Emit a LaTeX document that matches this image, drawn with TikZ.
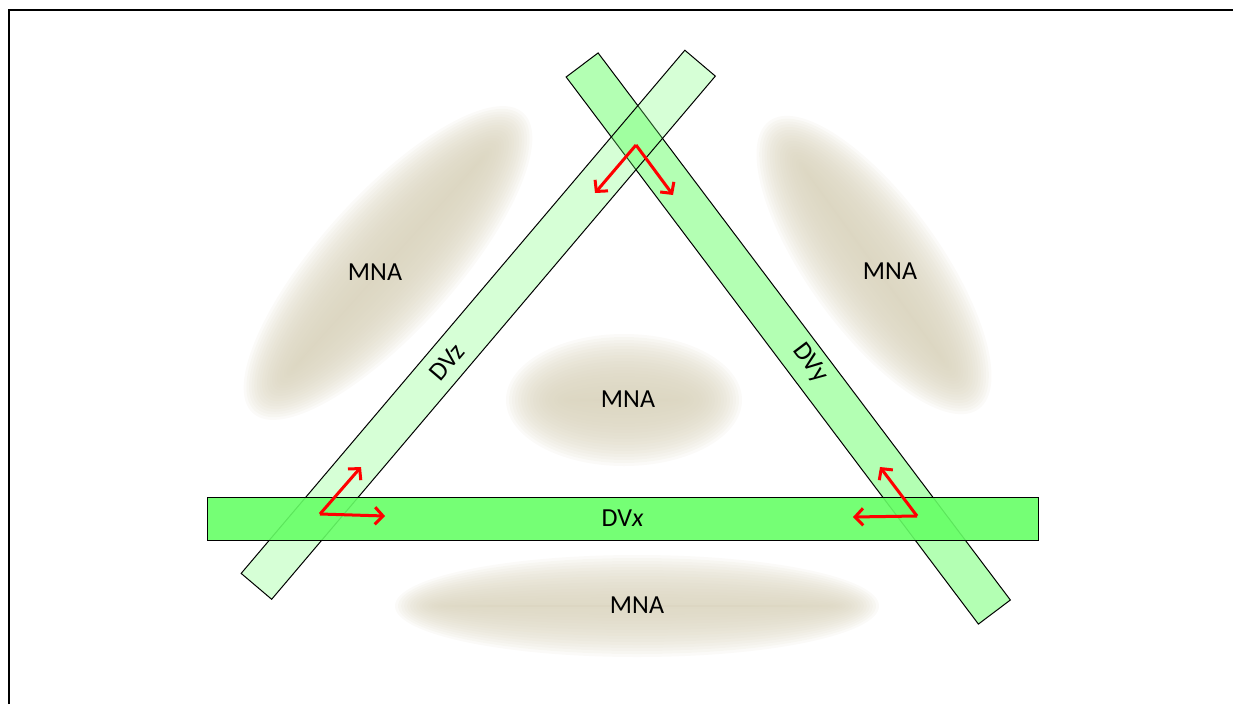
\documentclass[tikz,border=0pt]{standalone}
\usepackage{fontspec}
\setmainfont{Carlito}
\usepackage{tikz}
\usetikzlibrary{positioning, arrows.meta}
\definecolor{mnatan}{RGB}{218,212,190}
\definecolor{dvxgreen}{RGB}{102,255,102}
\definecolor{dvygreen}{RGB}{179,255,179}
\definecolor{dvzgreen}{RGB}{114,255,114}
\tikzstyle{Vec} = [
%red direction arrows:
red, line width=3pt,
-{Straight Barb[length=8pt, width=17pt]}
]

\begin{document}
\begin{tikzpicture}[x=1pt, y=-1pt,
				bar/.style = {draw, line width=1pt},
				mna/.style = {font=\fontsize{26}{30}\selectfont},
			]
			\useasboundingbox (0,0) rectangle (1233,704);
			\draw[line width=2pt] (9,704) -- (9,10) -- (1233,10);

			% soft MNA patches: stacked faint ellipses
			\foreach \cx/\cy/\ang/\a/\b in {388/263/48/166/32, 874/265/-54/142/30, 624/400/0/82/30, 637/606/0/206/15}{
				\foreach \k in {0,...,24}{
					\pgfmathsetmacro\ra{max(\a+36-3*\k,1)}
					\pgfmathsetmacro\rb{max(\b+36-3*\k,1)}
					\fill[mnatan, fill opacity=0.11, rotate around={\ang:(\cx,\cy)}] (\cx,\cy) ellipse [x radius=\ra pt, y radius=\rb pt];
				}
			}

			% the three bars
			\draw[bar, fill=dvygreen, rotate around={-53:(788.25,338.5)}] (445.75,318.5) rectangle (1130.75,358.5);
			\draw[bar, fill=dvzgreen, fill opacity=0.29, rotate around={49.7:(478.25,324.75)}] (135.25,304.75) rectangle (821.25,344.75);
			\node[bar, fill=dvxgreen, fill opacity=0.9, text opacity=1, inner sep=0pt, minimum width=831pt, minimum height=43pt, mna] (DVx) at (622.5,518.5) {DV\textit{x}};

			\node[mna, rotate=49.7] (labz) at (447,362) {DVz};
			\node[mna, rotate=-53] (laby) at (810,363) {DVy};

			\node[mna] (mnaL) at (375,272) {MNA};
			\node[mna] (mnaR) at (890,271) {MNA};
			\node[mna] (mnaC) at (628,399) {MNA};
			\node[mna] (mnaB) at (637,605) {MNA};

			% corner arrows
			\coordinate (topO) at (636,145);
			\coordinate (topL) at (595,193);
			\coordinate (topR) at (673,195);
			\coordinate (leftO) at (320,514);
			\coordinate (leftU) at (361,467);
			\coordinate (leftR) at (385,516);
			\coordinate (rightO) at (917,516);
			\coordinate (rightU) at (880,467);
			\coordinate (rightL) at (853,517);

			\draw[Vec](topO)--(topL);
			\draw[Vec](topO)--(topR);
			\draw[Vec](leftO)--(leftU);
			\draw[Vec](leftO)--(leftR);
			\draw[Vec](rightO)--(rightU);
			\draw[Vec](rightO)--(rightL);

		\end{tikzpicture}
\end{document}
